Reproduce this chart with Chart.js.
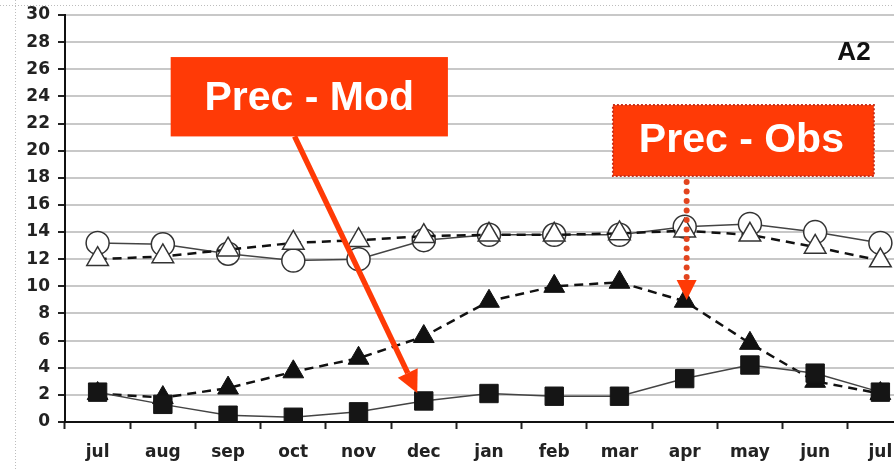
<!DOCTYPE html>
<html>
<head>
<meta charset="utf-8">
<script src="https://cdn.jsdelivr.net/npm/chart.js@4.4.1/dist/chart.umd.min.js"></script>
<style>
html,body{margin:0;padding:0;background:#fff;overflow:hidden;width:894px;height:470px;}
canvas{display:block;}
</style>
</head>
<body>
<canvas id="c" width="927" height="470"></canvas>
<script>
const months = ['jul','aug','sep','oct','nov','dec','jan','feb','mar','apr','may','jun','jul'];
const yTicks = [0,2,4,6,8,10,12,14,16,18,20,22,24,26,28,30];
// open circles, solid line
const tempObs = [13.2, 13.1, 12.4, 11.9, 12.0, 13.4, 13.8, 13.8, 13.8, 14.4, 14.6, 14.0, 13.2];
// open triangles, dashed line
const tempMod = [12.0, 12.2, 12.7, 13.2, 13.4, 13.7, 13.8, 13.8, 13.9, 14.1, 13.8, 12.9, 11.9];
// filled triangles, dashed line (Prec - Obs)
const precObs = [2.1, 1.8, 2.5, 3.7, 4.7, 6.3, 8.9, 10.0, 10.3, 8.9, 5.8, 3.0, 2.1];
// filled squares, solid line (Prec - Mod)
const precMod = [2.2, 1.3, 0.5, 0.35, 0.75, 1.55, 2.1, 1.9, 1.9, 3.2, 4.2, 3.6, 2.2];
const panelLabel = 'A2';
const modLabel = 'Prec - Mod';
const obsLabel = 'Prec - Obs';

const RED = '#ff3a06';

const annotationPlugin = {
  id: 'annots',
  beforeDraw(chart) {
    const ctx = chart.ctx;
    ctx.save();
    ctx.strokeStyle = '#bdbdbd';
    ctx.lineWidth = 1;
    ctx.setLineDash([1, 2]);
    ctx.beginPath();
    ctx.moveTo(0, 5.5); ctx.lineTo(chart.width, 5.5);
    ctx.moveTo(15.5, 0); ctx.lineTo(15.5, chart.height);
    ctx.stroke();
    ctx.restore();
  },
  afterDraw(chart) {
    const ctx = chart.ctx;
    const xs = chart.scales.x, ys = chart.scales.y;
    const x0 = xs.getPixelForValue(0), x1 = xs.getPixelForValue(1);
    const px = i => x0 + (x1 - x0) * i;
    const py = v => ys.getPixelForValue(v);
    ctx.save();
    // Mod box
    const mL = px(1.12), mR = px(5.37), mT = py(26.9), mB = py(21.05);
    ctx.fillStyle = RED;
    ctx.fillRect(mL, mT, mR - mL, mB - mT);
    ctx.fillStyle = '#fff';
    ctx.font = 'bold 41px "Liberation Sans", Arial, sans-serif';
    ctx.textAlign = 'center';
    ctx.textBaseline = 'alphabetic';
    ctx.fillText(modLabel, (mL + mR) / 2, mT + 53);
    // Mod arrow
    const ax0 = px(3.02), ay0 = mB, ax1 = px(4.90), ay1 = py(2.14);
    const ang = Math.atan2(ay1 - ay0, ax1 - ax0);
    const headL = 22, headW = 11;
    const bx = ax1 - Math.cos(ang) * headL, by = ay1 - Math.sin(ang) * headL;
    ctx.strokeStyle = RED;
    ctx.lineWidth = 5.5;
    ctx.beginPath(); ctx.moveTo(ax0, ay0); ctx.lineTo(bx, by); ctx.stroke();
    ctx.fillStyle = RED;
    ctx.beginPath();
    ctx.moveTo(ax1, ay1);
    ctx.lineTo(bx + Math.sin(ang) * headW, by - Math.cos(ang) * headW);
    ctx.lineTo(bx - Math.sin(ang) * headW, by + Math.cos(ang) * headW);
    ctx.closePath(); ctx.fill();
    // Obs box
    const oL = px(7.90), oR = px(11.90), oT = py(23.36), oB = py(18.13);
    ctx.fillStyle = RED;
    ctx.fillRect(oL, oT, oR - oL, oB - oT);
    ctx.strokeStyle = '#c9301a';
    ctx.lineWidth = 2;
    ctx.setLineDash([2, 2]);
    ctx.strokeRect(oL, oT, oR - oL, oB - oT);
    ctx.setLineDash([]);
    ctx.fillStyle = '#fff';
    ctx.fillText(obsLabel, (oL + oR) / 2 - 2, oT + 47);
    // Obs dotted arrow
    const dx = px(9.03);
    const dTop = oB + 6, tip = py(9.0);
    const headTop = tip - 20;
    ctx.fillStyle = '#e2441e';
    for (let y = dTop; y < headTop - 2; y += 9.5) {
      ctx.beginPath(); ctx.arc(dx, y, 3, 0, Math.PI * 2); ctx.fill();
    }
    ctx.fillStyle = RED;
    ctx.beginPath();
    ctx.moveTo(dx, tip);
    ctx.lineTo(dx - 10, headTop);
    ctx.lineTo(dx + 10, headTop);
    ctx.closePath(); ctx.fill();
    // Panel label
    ctx.fillStyle = '#111';
    ctx.font = 'bold 26px "Liberation Sans", Arial, sans-serif';
    ctx.textAlign = 'right';
    ctx.fillText(panelLabel, px(11.85), py(26.7));
    ctx.restore();
  }
};

new Chart(document.getElementById('c'), {
  type: 'line',
  data: {
    labels: months,
    datasets: [
      {
        label: 'Temp - Obs', data: tempObs, order: 4,
        borderColor: '#444', borderWidth: 1.5,
        pointStyle: 'circle', pointRadius: 11.5, pointHoverRadius: 11.5,
        pointBackgroundColor: '#fff', pointBorderColor: '#333', pointBorderWidth: 1.5,
        tension: 0
      },
      {
        label: 'Temp - Mod', data: tempMod, order: 3,
        borderColor: '#111', borderWidth: 2.5, borderDash: [9, 6],
        pointStyle: 'triangle', pointRadius: 12.5, pointHoverRadius: 12.5,
        pointBackgroundColor: '#fff', pointBorderColor: '#333', pointBorderWidth: 1.5,
        tension: 0
      },
      {
        label: 'Prec - Obs', data: precObs, order: 2,
        borderColor: '#111', borderWidth: 2.5, borderDash: [9, 6],
        pointStyle: 'triangle', pointRadius: 12, pointHoverRadius: 12,
        pointBackgroundColor: '#111', pointBorderColor: '#111', pointBorderWidth: 1,
        tension: 0
      },
      {
        label: 'Prec - Mod', data: precMod, order: 1,
        borderColor: '#444', borderWidth: 1.5,
        pointStyle: 'rect', pointRadius: 13, pointHoverRadius: 13,
        pointBackgroundColor: '#151515', pointBorderColor: '#151515', pointBorderWidth: 1,
        tension: 0
      }
    ]
  },
  options: {
    responsive: false,
    animation: false,
    events: [],
    layout: { padding: { top: 15, left: 0, right: 0, bottom: 0 } },
    plugins: { legend: { display: false }, tooltip: { enabled: false }, title: { display: false } },
    scales: {
      x: {
        type: 'category',
        offset: true,
        afterFit: s => { s.height = 48; },
        grid: { offset: true, drawOnChartArea: false, drawTicks: true, tickLength: 7, tickColor: '#222', tickWidth: 2 },
        border: { display: true, color: '#111', width: 2 },
        ticks: {
          autoSkip: false, maxRotation: 0, padding: 13, color: '#222',
          font: { family: '"DejaVu Sans", Verdana, sans-serif', size: 17, weight: 'bold' }
        }
      },
      y: {
        min: 0, max: 30,
        afterFit: s => { s.width = 65; s.paddingTop = 0; s.paddingBottom = 0; },
        afterBuildTicks: s => { s.ticks = yTicks.map(v => ({ value: v })); },
        grid: { color: '#c8c8c8', lineWidth: 2, tickLength: 7, tickColor: '#222', tickWidth: 2 },
        border: { display: true, color: '#111', width: 2 },
        ticks: {
          padding: 8, color: '#222',
          font: { family: '"DejaVu Sans", Verdana, sans-serif', size: 17, weight: 'bold' }
        }
      }
    }
  },
  plugins: [annotationPlugin]
});
</script>
</body>
</html>
